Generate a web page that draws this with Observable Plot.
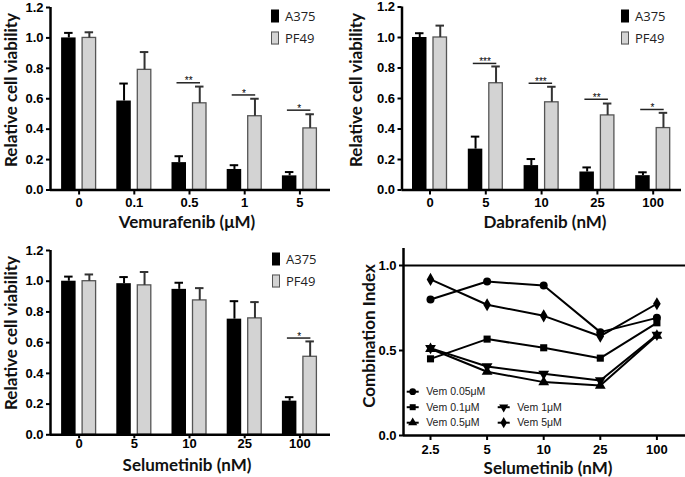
<!DOCTYPE html>
<html><head><meta charset="utf-8">
<script src="https://cdn.jsdelivr.net/npm/d3@7"></script>
<script src="https://cdn.jsdelivr.net/npm/@observablehq/plot@0.6"></script>
<style>
body{margin:0;background:#fff;}
#root{position:relative;width:685px;height:477px;overflow:hidden;background:#fff;}
.panel{position:absolute;}
.title{position:absolute;font-family:Lato,"Open Sans",sans-serif;font-weight:bold;font-size:17px;color:#111;white-space:nowrap;transform:translate(-50%,-50%);line-height:1;}
.ytitle{transform:translate(-50%,-50%) rotate(-90deg);}
.leg{position:absolute;font-family:"Open Sans",sans-serif;font-size:13px;color:#222;display:flex;align-items:center;line-height:1;white-space:nowrap;transform:translateY(-50%);}
.sw{width:8px;height:13px;margin-right:6px;box-sizing:border-box;}
</style></head><body><div id="root"></div>
<script>
// ---------- data ----------
const viabilityTicks = [0, 0.2, 0.4, 0.6, 0.8, 1.0, 1.2];
const ciTicks = [0, 0.5, 1.0];
const cellLines = ["A375", "PF49"];

const vemDoses = ["0", "0.1", "0.5", "1", "5"];
const vemA375 = [1.0, 0.585, 0.18, 0.135, 0.093];
const vemA375Err = [1.033, 0.70, 0.222, 0.163, 0.118];
const vemPF49 = [1.0, 0.79, 0.57, 0.485, 0.405];
const vemPF49Err = [1.037, 0.907, 0.68, 0.60, 0.498];
const vemSig = [null, null, 0.705, 0.625, 0.525];
const vemStars = ["", "", "**", "*", "*"];

const dabDoses = ["0", "5", "10", "25", "100"];
const dabA375 = [1.0, 0.268, 0.16, 0.118, 0.094];
const dabA375Err = [1.028, 0.35, 0.203, 0.148, 0.116];
const dabPF49 = [1.0, 0.70, 0.575, 0.489, 0.406];
const dabPF49Err = [1.078, 0.81, 0.677, 0.567, 0.506];
const dabSig = [null, 0.83, 0.70, 0.595, 0.528];
const dabStars = ["", "***", "***", "**", "*"];

const selDoses = ["0", "5", "10", "25", "100"];
const selA375 = [1.0, 0.984, 0.947, 0.753, 0.219];
const selA375Err = [1.03, 1.027, 0.99, 0.87, 0.245];
const selPF49 = [1.0, 0.973, 0.875, 0.758, 0.508];
const selPF49Err = [1.044, 1.06, 0.955, 0.864, 0.608];
const selSig = [null, null, null, null, 0.63];
const selStars = ["", "", "", "", "*"];

const ciDoses = ["2.5", "5", "10", "25", "100"];
const ciSeries = ["Vem 0.05μM", "Vem 0.1μM", "Vem 0.5μM", "Vem 1μM", "Vem 5μM"];
const ciVem005 = [0.80, 0.906, 0.882, 0.608, 0.692];
const ciVem01 = [0.451, 0.567, 0.516, 0.455, 0.663];
const ciVem05 = [0.51, 0.375, 0.314, 0.294, 0.588];
const ciVem1 = [0.514, 0.406, 0.363, 0.324, 0.592];
const ciVem5 = [0.918, 0.769, 0.704, 0.584, 0.775];
const ciValues = [ciVem005, ciVem01, ciVem05, ciVem1, ciVem5];

// ---------- helpers ----------
const root = document.getElementById("root");
const tickFont = '"Liberation Sans", Arial, sans-serif';
const symbolTriangleDown = {
  draw(context, size) {
    const y = -Math.sqrt(size / (Math.sqrt(3) * 3));
    context.moveTo(0, -y * 2);
    context.lineTo(-Math.sqrt(3) * y, y);
    context.lineTo(Math.sqrt(3) * y, y);
    context.closePath();
  }
};
const ciSymbols = [d3.symbolCircle, d3.symbolSquare, d3.symbolTriangle, symbolTriangleDown, d3.symbolDiamond];

function place(el, left, top) {
  el.style.left = left + "px"; el.style.top = top + "px";
}
function addPanel(svg, left, top) {
  const d = document.createElement("div");
  d.className = "panel"; place(d, left, top);
  d.appendChild(svg); root.appendChild(d);
}
function addTitle(text, x, y, vertical) {
  const d = document.createElement("div");
  d.className = "title" + (vertical ? " ytitle" : "");
  d.textContent = text; place(d, x, y); root.appendChild(d);
}
function addBarLegend(x, y) {
  const fills = ["#000", "#d3d3d3"];
  cellLines.forEach((name, i) => {
    const d = document.createElement("div");
    d.className = "leg"; place(d, x, y + i * 22);
    const s = document.createElement("div");
    s.className = "sw"; s.style.background = fills[i];
    s.style.border = i ? "1.2px solid #555" : "none";
    d.appendChild(s);
    d.appendChild(document.createTextNode(name));
    root.appendChild(d);
  });
}

function barPanel(o) {
  const rows = o.doses.map((d, i) => ({dose: d, a: o.a[i], ae: o.ae[i], p: o.p[i], pe: o.pe[i], s: o.sig[i], st: o.stars[i]}));
  const sigRows = rows.filter(r => r.s != null);
  const step = (o.xRange[1] - o.xRange[0]) / o.doses.length;
  const h = step / 2;
  return Plot.plot({
    width: o.width, height: o.height,
    marginLeft: o.axisX, marginRight: o.width - o.frameRight,
    marginTop: o.yRange[1], marginBottom: o.height - o.yRange[0],
    x: {type: "band", domain: o.doses, range: o.xRange, padding: 0, round: false},
    y: {domain: [0, 1.2], range: o.yRange},
    style: {fontFamily: tickFont, color: "#000", background: "transparent", overflow: "visible"},
    marks: [
      Plot.barY(rows, {x: "dose", y: "a", fill: "#000", insetLeft: h - 17.5, insetRight: h + 3}),
      Plot.barY(rows, {x: "dose", y: "p", fill: "#d3d3d3", stroke: "#555", strokeWidth: 1.3, insetLeft: h + 3.5, insetRight: h - 17}),
      Plot.ruleX(rows, {x: "dose", y1: "a", y2: "ae", dx: -10.25, strokeWidth: 2, stroke: "#000"}),
      Plot.tickY(rows, {x: "dose", y: "ae", insetLeft: h - 14.5, insetRight: h + 6, strokeWidth: 2, stroke: "#000"}),
      Plot.ruleX(rows, {x: "dose", y1: "p", y2: "pe", dx: 10.25, strokeWidth: 2, stroke: "#333"}),
      Plot.tickY(rows, {x: "dose", y: "pe", insetLeft: h + 6, insetRight: h - 14.5, strokeWidth: 2, stroke: "#333"}),
      Plot.tickY(sigRows, {x: "dose", y: "s", insetLeft: h - 12.5, insetRight: h - 11, strokeWidth: 1.5, stroke: "#222"}),
      Plot.text(sigRows, {x: "dose", y: "s", text: "st", dx: -0.75, dy: -1.5, fontSize: 10, fill: "#000"}),
      Plot.ruleY([0], {strokeWidth: 2.5}),
      Plot.ruleX([o.doses[0]], {dx: o.axisX - (o.xRange[0] + h), strokeWidth: 2.5}),
      Plot.axisX({tickSize: o.xTickSize, tickPadding: o.xTickPadding, strokeWidth: 2, fontSize: 13, fontWeight: "bold", label: null}),
      Plot.axisY({ticks: viabilityTicks, tickFormat: d3.format(".1f"), tickSize: 4, tickPadding: 3, strokeWidth: 2, fontSize: 13, fontWeight: "bold", label: null})
    ]
  });
}

// ---------- panel 1: Vemurafenib ----------
addPanel(barPanel({doses: vemDoses, a: vemA375, ae: vemA375Err, p: vemPF49, pe: vemPF49Err, sig: vemSig, stars: vemStars,
  width: 340, height: 240, axisX: 50, frameRight: 330, xRange: [51, 327], yRange: [189.5, 7], xTickSize: 5, xTickPadding: 3}), 0, 0);
addTitle("Vemurafenib (μM)", 187, 221);
addTitle("Relative cell viability", 10, 90, true);
addBarLegend(271, 15.5);

// ---------- panel 2: Dabrafenib ----------
addPanel(barPanel({doses: dabDoses, a: dabA375, ae: dabA375Err, p: dabPF49, pe: dabPF49Err, sig: dabSig, stars: dabStars,
  width: 345, height: 240, axisX: 61.5, frameRight: 341, xRange: [61.6, 340.6], yRange: [189.5, 6.5], xTickSize: 5, xTickPadding: 3}), 340, 0);
addTitle("Dabrafenib (nM)", 545, 221);
addTitle("Relative cell viability", 355, 90, true);
addBarLegend(621, 16);

// ---------- panel 3: Selumetinib ----------
addPanel(barPanel({doses: selDoses, a: selA375, ae: selA375Err, p: selPF49, pe: selPF49Err, sig: selSig, stars: selStars,
  width: 340, height: 237, axisX: 50, frameRight: 330, xRange: [51, 327], yRange: [194.3, 10], xTickSize: 4, xTickPadding: 0}), 0, 240);
addTitle("Selumetinib (nM)", 187, 464);
addTitle("Relative cell viability", 10, 333, true);
addBarLegend(272, 259);

// ---------- panel 4: Combination index ----------
const ciRows = [];
ciSeries.forEach((s, k) => ciDoses.forEach((d, i) => ciRows.push({series: s, dose: d, ci: ciValues[k][i]})));
const ciRange = [61.7, 344.7];
const ciHalf = (ciRange[1] - ciRange[0]) / ciDoses.length / 2;
const ciPlot = Plot.plot({
  width: 345, height: 237, marginLeft: 63, marginRight: 0, marginTop: 8, marginBottom: 42,
  x: {type: "band", domain: ciDoses, range: ciRange, padding: 0, round: false},
  y: {domain: [0, 1.1], range: [195, 8]},
  style: {fontFamily: tickFont, color: "#000", background: "transparent", overflow: "visible"},
  marks: [
    Plot.ruleY([1.0], {strokeWidth: 2}),
    Plot.line(ciRows, {x: "dose", y: "ci", z: "series", stroke: "#000", strokeWidth: 2}),
    ...ciSeries.map((s, k) => Plot.dot(ciRows.filter(r => r.series === s), {x: "dose", y: "ci", symbol: ciSymbols[k], r: 4, fill: "#000", stroke: "none"})),
    Plot.ruleY([0], {strokeWidth: 2.5}),
    Plot.ruleX([ciDoses[0]], {dx: 63 - (ciRange[0] + ciHalf), strokeWidth: 2.5}),
    Plot.axisX({tickSize: 5, tickPadding: 4, strokeWidth: 2, fontSize: 13, fontWeight: "bold", label: null}),
    Plot.axisY({ticks: ciTicks, tickFormat: d3.format(".1f"), tickSize: 4, tickPadding: 3, strokeWidth: 2, fontSize: 13, fontWeight: "bold", label: null})
  ]
});
addPanel(ciPlot, 340, 240);
addTitle("Selumetinib (nM)", 548, 467);
addTitle("Combination Index", 368, 336, true);

// legend for panel 4
const legPos = [[0, 0], [0, 1], [0, 2], [1, 1], [1, 2]];
const legSvg = d3.select(root).append("svg")
  .attr("width", 685).attr("height", 477)
  .style("position", "absolute").style("left", 0).style("top", 0).style("pointer-events", "none");
ciSeries.forEach((s, k) => {
  const cx = 412.7 + legPos[k][0] * 91, cy = 391.7 + legPos[k][1] * 15.5;
  const g = legSvg.append("g").attr("transform", `translate(${cx},${cy})`);
  g.append("line").attr("x1", -6).attr("x2", 6).attr("stroke", "#000").attr("stroke-width", 2);
  g.append("path").attr("d", d3.symbol(ciSymbols[k], 36)()).attr("fill", "#000");
  g.append("text").attr("x", 13.5).attr("dy", "0.35em").attr("font-family", tickFont)
    .attr("font-size", 10.5).attr("fill", "#222").text(s);
});
</script></body></html>
